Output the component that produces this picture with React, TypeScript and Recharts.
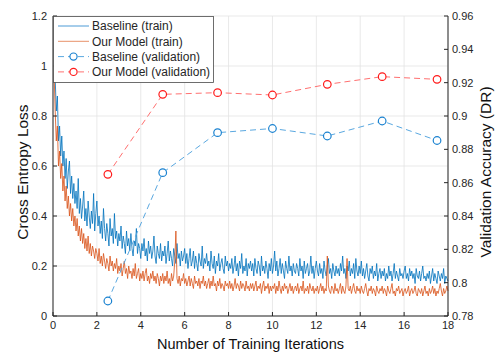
import { ComposedChart, Line, XAxis, YAxis, CartesianGrid, Legend } from 'recharts';

// training loss, one value every 0.05 iteration units starting at 0.05
const baselineTrain = [
  1.07, 0.95, 0.82, 0.88, 0.70, 0.76, 0.64, 0.72, 0.60, 0.66, 0.55, 0.63, 0.51, 0.58, 0.62, 0.49, 0.56, 0.47, 0.53, 0.45,
  0.50, 0.43, 0.55, 0.41, 0.47, 0.39, 0.44, 0.50, 0.38, 0.43, 0.36, 0.46, 0.40, 0.35, 0.42, 0.37, 0.49, 0.34, 0.41, 0.46,
  0.36, 0.40, 0.33, 0.38, 0.31, 0.43, 0.35, 0.30, 0.37, 0.33, 0.28, 0.39, 0.32, 0.35, 0.29, 0.41, 0.31, 0.34, 0.28, 0.33,
  0.30, 0.36, 0.27, 0.32, 0.29, 0.25, 0.34, 0.28, 0.31, 0.26, 0.33, 0.27, 0.24, 0.30, 0.28, 0.35, 0.25, 0.29, 0.27, 0.23,
  0.29, 0.26, 0.31, 0.24, 0.27, 0.22, 0.30, 0.25, 0.28, 0.23, 0.26, 0.32, 0.24, 0.21, 0.28, 0.25, 0.23, 0.29, 0.22, 0.26,
  0.24, 0.28, 0.21, 0.25, 0.30, 0.22, 0.26, 0.23, 0.20, 0.27, 0.24, 0.21, 0.29, 0.23, 0.25, 0.20, 0.26, 0.22, 0.24, 0.27,
  0.21, 0.25, 0.19, 0.23, 0.27, 0.20, 0.22, 0.26, 0.19, 0.24, 0.21, 0.18, 0.25, 0.22, 0.20, 0.28, 0.19, 0.23, 0.21, 0.25,
  0.20, 0.22, 0.18, 0.26, 0.21, 0.19, 0.24, 0.17, 0.22, 0.20, 0.25, 0.18, 0.21, 0.23, 0.19, 0.17, 0.24, 0.20, 0.22, 0.18,
  0.21, 0.19, 0.23, 0.17, 0.20, 0.24, 0.18, 0.21, 0.16, 0.22, 0.19, 0.25, 0.17, 0.20, 0.18, 0.23, 0.16, 0.21, 0.19, 0.22,
  0.18, 0.21, 0.16, 0.23, 0.19, 0.17, 0.22, 0.20, 0.16, 0.24, 0.18, 0.20, 0.17, 0.22, 0.19, 0.15, 0.21, 0.18, 0.23, 0.17,
  0.20, 0.26, 0.18, 0.22, 0.16, 0.19, 0.23, 0.17, 0.21, 0.18, 0.15, 0.22, 0.19, 0.17, 0.24, 0.18, 0.20, 0.16, 0.21, 0.18,
  0.17, 0.21, 0.19, 0.16, 0.23, 0.18, 0.20, 0.15, 0.22, 0.17, 0.19, 0.21, 0.16, 0.18, 0.24, 0.17, 0.20, 0.15, 0.19, 0.22,
  0.18, 0.16, 0.21, 0.17, 0.19, 0.15, 0.22, 0.18, 0.16, 0.20, 0.23, 0.17, 0.19, 0.15, 0.21, 0.18, 0.16, 0.20, 0.17, 0.19,
  0.16, 0.21, 0.18, 0.24, 0.17, 0.19, 0.15, 0.20, 0.18, 0.22, 0.16, 0.19, 0.17, 0.21, 0.15, 0.23, 0.18, 0.16, 0.20, 0.17,
  0.22, 0.16, 0.19, 0.15, 0.18, 0.21, 0.16, 0.14, 0.19, 0.17, 0.20, 0.15, 0.18, 0.16, 0.21, 0.14, 0.17, 0.19, 0.15, 0.18,
  0.16, 0.19, 0.14, 0.17, 0.15, 0.20, 0.16, 0.18, 0.14, 0.17, 0.21, 0.15, 0.18, 0.16, 0.14, 0.19, 0.16, 0.17, 0.15, 0.18,
  0.20, 0.15, 0.17, 0.14, 0.19, 0.16, 0.18, 0.15, 0.17, 0.13, 0.19, 0.16, 0.15, 0.18, 0.14, 0.17, 0.20, 0.15, 0.16, 0.14,
  0.17, 0.15, 0.18, 0.13, 0.16, 0.19, 0.14, 0.17, 0.15, 0.13, 0.18, 0.16, 0.14, 0.17, 0.15, 0.19, 0.13, 0.16, 0.15, 0.14,
];

const ourTrain = [
  0.97, 0.82, 0.70, 0.76, 0.60, 0.66, 0.55, 0.61, 0.50, 0.56, 0.46, 0.52, 0.43, 0.48, 0.40, 0.45, 0.38, 0.43, 0.36, 0.40,
  0.34, 0.39, 0.32, 0.36, 0.30, 0.35, 0.29, 0.33, 0.27, 0.31, 0.26, 0.32, 0.25, 0.29, 0.24, 0.28, 0.26, 0.23, 0.27, 0.25,
  0.22, 0.27, 0.21, 0.24, 0.20, 0.25, 0.22, 0.19, 0.23, 0.21, 0.18, 0.24, 0.20, 0.22, 0.18, 0.21, 0.19, 0.23, 0.17, 0.20,
  0.18, 0.21, 0.16, 0.19, 0.22, 0.17, 0.19, 0.15, 0.20, 0.17, 0.18, 0.15, 0.19, 0.16, 0.21, 0.15, 0.17, 0.19, 0.14, 0.17,
  0.15, 0.18, 0.14, 0.17, 0.19, 0.14, 0.16, 0.13, 0.17, 0.15, 0.18, 0.14, 0.16, 0.13, 0.17, 0.15, 0.12, 0.16, 0.14, 0.17,
  0.13, 0.16, 0.14, 0.18, 0.13, 0.15, 0.12, 0.17, 0.14, 0.16, 0.22, 0.34, 0.15, 0.13, 0.16, 0.12, 0.15, 0.14, 0.17, 0.13,
  0.15, 0.12, 0.14, 0.16, 0.12, 0.15, 0.13, 0.11, 0.16, 0.13, 0.14, 0.12, 0.15, 0.11, 0.14, 0.13, 0.16, 0.12, 0.14, 0.11,
  0.13, 0.15, 0.11, 0.14, 0.12, 0.16, 0.12, 0.13, 0.10, 0.14, 0.12, 0.15, 0.11, 0.13, 0.12, 0.10, 0.14, 0.12, 0.13, 0.11,
  0.14, 0.11, 0.13, 0.10, 0.12, 0.15, 0.11, 0.13, 0.12, 0.10, 0.14, 0.11, 0.13, 0.12, 0.10, 0.14, 0.11, 0.12, 0.10, 0.13,
  0.11, 0.13, 0.10, 0.12, 0.14, 0.10, 0.12, 0.11, 0.13, 0.09, 0.12, 0.14, 0.10, 0.12, 0.11, 0.13, 0.09, 0.12, 0.10, 0.12,
  0.11, 0.13, 0.09, 0.12, 0.10, 0.14, 0.11, 0.09, 0.12, 0.10, 0.13, 0.11, 0.12, 0.09, 0.11, 0.13, 0.10, 0.12, 0.09, 0.11,
  0.12, 0.10, 0.13, 0.09, 0.11, 0.12, 0.10, 0.14, 0.09, 0.11, 0.10, 0.12, 0.09, 0.13, 0.11, 0.10, 0.12, 0.09, 0.11, 0.10,
  0.12, 0.09, 0.11, 0.13, 0.10, 0.12, 0.09, 0.11, 0.10, 0.24, 0.12, 0.10, 0.09, 0.12, 0.11, 0.09, 0.13, 0.10, 0.11, 0.09,
  0.11, 0.13, 0.09, 0.12, 0.10, 0.09, 0.12, 0.23, 0.11, 0.10, 0.12, 0.09, 0.11, 0.13, 0.10, 0.09, 0.12, 0.10, 0.11, 0.09,
  0.12, 0.10, 0.09, 0.11, 0.13, 0.10, 0.08, 0.11, 0.10, 0.12, 0.09, 0.11, 0.10, 0.08, 0.12, 0.10, 0.09, 0.11, 0.10, 0.12,
  0.09, 0.11, 0.10, 0.08, 0.12, 0.10, 0.09, 0.11, 0.13, 0.09, 0.10, 0.08, 0.11, 0.10, 0.12, 0.09, 0.10, 0.11, 0.08, 0.10,
  0.11, 0.09, 0.10, 0.12, 0.08, 0.10, 0.11, 0.09, 0.10, 0.12, 0.09, 0.08, 0.11, 0.10, 0.09, 0.11, 0.08, 0.10, 0.12, 0.09,
  0.10, 0.08, 0.11, 0.09, 0.10, 0.12, 0.09, 0.11, 0.08, 0.10, 0.09, 0.11, 0.13, 0.10, 0.08, 0.11, 0.09, 0.10, 0.12, 0.10,
];

const valIters = [2.5, 5, 7.5, 10, 12.5, 15, 17.5];
const baselineVal = [0.789, 0.866, 0.890, 0.8925, 0.888, 0.897, 0.8853];
const ourVal = [0.865, 0.913, 0.914, 0.9126, 0.919, 0.9236, 0.922];

const xTicks = [0, 2, 4, 6, 8, 10, 12, 14, 16, 18];
const lossTicks = [0, 0.2, 0.4, 0.6, 0.8, 1, 1.2];
const accTicks = [0.78, 0.8, 0.82, 0.84, 0.86, 0.88, 0.9, 0.92, 0.94, 0.96];

const trainData = baselineTrain.map((b, i) => ({
  iter: (i + 1) / 20,
  baseline: b,
  ours: ourTrain[i],
}));
const valData = valIters.map((it, i) => ({ iter: it, baseline: baselineVal[i], ours: ourVal[i] }));

const FONT = '"Liberation Sans", Arial, sans-serif';
const AXIS = '#262626';
const BLUE = '#0072BD';
const ORANGE = '#D95319';

const legendItems = [
  { label: 'Baseline (train)', color: '#4D9BD6', dash: undefined, marker: '' },
  { label: 'Our Model (train)', color: '#E8926A', dash: undefined, marker: '' },
  { label: 'Baseline (validation)', color: '#5AA8E0', dash: '6 4', marker: '#1A82D0' },
  { label: 'Our Model (validation)', color: '#FF7070', dash: '6 4', marker: '#FF1A1A' },
];

function LegendBox() {
  return (
    <svg width={161} height={67} style={{ display: 'block' }}>
      <rect x={0.5} y={0.5} width={160} height={66} fill="#fff" stroke="#4a4a4a" strokeWidth={0.8} />
      {legendItems.map((it, i) => {
        const y = 10 + i * 15.3;
        return (
          <g key={it.label}>
            <line x1={5} x2={36} y1={y} y2={y} stroke={it.color} strokeWidth={1} strokeDasharray={it.dash} />
            {it.marker && <circle cx={20.5} cy={y} r={3.6} fill="#fff" stroke={it.marker} strokeWidth={1.2} />}
            <text x={39} y={y + 4.3} fontSize={12} fontFamily={FONT} fill={AXIS}>{it.label}</text>
          </g>
        );
      })}
    </svg>
  );
}

const yTitle = (text: string, x: number) => () => (
  <text
    transform={`translate(${x},172) rotate(-90)`}
    textAnchor="middle"
    dominantBaseline="central"
    fontSize={15.5}
    fontFamily={FONT}
    fill="#111"
  >
    {text}
  </text>
);

export default function App() {
  return (
    <div style={{ position: 'absolute', left: 0, top: 0, width: 504, height: 357, background: '#fff' }}>
      <ComposedChart width={504} height={357} margin={{ top: 16, right: 0, bottom: 0, left: 0 }}>
        <CartesianGrid yAxisId="left" xAxisId="bottom" stroke="#e3e3e3" strokeWidth={0.8} />
        <XAxis
          xAxisId="bottom"
          dataKey="iter"
          type="number"
          domain={[0, 18]}
          ticks={xTicks}
          allowDuplicatedCategory={false}
          height={41}
          stroke={AXIS}
          tickSize={-4}
          tickMargin={9}
          tick={{ fill: AXIS, fontSize: 11, fontFamily: FONT }}
          label={{ value: 'Number of Training Iterations', position: 'insideBottom', offset: 8, fill: '#111', fontSize: 14.5, fontFamily: FONT }}
        />
        <XAxis xAxisId="top" orientation="top" type="number" dataKey="iter" domain={[0, 18]} ticks={xTicks} height={0} stroke={AXIS} tickSize={-4} tick={false} />
        <YAxis
          yAxisId="left"
          domain={[0, 1.2]}
          ticks={lossTicks}
          width={53}
          stroke={AXIS}
          tickSize={-4}
          tickMargin={10}
          tick={{ fill: AXIS, fontSize: 11, fontFamily: FONT }}
          label={{ content: yTitle('Cross Entropy Loss', 22) }}
        />
        <YAxis
          yAxisId="right"
          orientation="right"
          domain={[0.78, 0.96]}
          ticks={accTicks}
          width={56}
          stroke={AXIS}
          tickSize={-4}
          tickMargin={8}
          tick={{ fill: AXIS, fontSize: 11, fontFamily: FONT }}
          label={{ content: yTitle('Validation Accuracy (DR)', 485) }}
        />
        <Line xAxisId="bottom" yAxisId="left" data={trainData} dataKey="baseline" name="Baseline (train)" stroke={BLUE} strokeOpacity={0.8} strokeWidth={1} dot={false} isAnimationActive={false} />
        <Line xAxisId="bottom" yAxisId="left" data={trainData} dataKey="ours" name="Our Model (train)" stroke={ORANGE} strokeOpacity={0.8} strokeWidth={1} dot={false} isAnimationActive={false} />
        <Line
          xAxisId="bottom"
          yAxisId="right"
          data={valData}
          dataKey="baseline"
          name="Baseline (validation)"
          stroke="#5AA8E0"
          strokeWidth={1}
          strokeDasharray="6 4"
          dot={{ r: 3.8, fill: '#fff', stroke: '#1A82D0', strokeWidth: 1.2, strokeDasharray: '' }}
          isAnimationActive={false}
        />
        <Line
          xAxisId="bottom"
          yAxisId="right"
          data={valData}
          dataKey="ours"
          name="Our Model (validation)"
          stroke="#FF7070"
          strokeWidth={1}
          strokeDasharray="6 4"
          dot={{ r: 3.8, fill: '#fff', stroke: '#FF1A1A', strokeWidth: 1.2, strokeDasharray: '' }}
          isAnimationActive={false}
        />
        <Legend
          layout="vertical"
          align="center"
          verticalAlign="middle"
          content={() => <LegendBox />}
          wrapperStyle={{ position: 'absolute', left: 53, top: 16, width: 161, height: 67 }}
        />
      </ComposedChart>
    </div>
  );
}
